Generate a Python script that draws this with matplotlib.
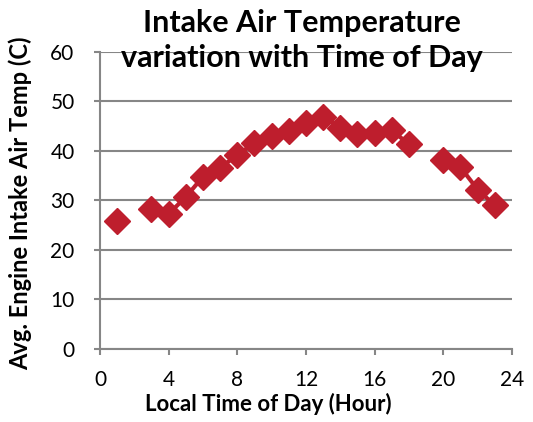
import numpy as np
import matplotlib.pyplot as plt

# hourly averages (NaN = no data for that hour)
hours = np.arange(1, 24)
temps = [25.9, np.nan, 28.3, 27.3, 30.7, 34.8, 36.6, 39.2, 41.6, 43.0,
         44.1, 45.6, 46.9, 44.7, 43.5, 43.7, 44.2, 41.3, np.nan, 38.2,
         36.7, 32.2, 29.0]

x_ticks = [0, 4, 8, 12, 16, 20, 24]
y_ticks = [0, 10, 20, 30, 40, 50, 60]

plt.rcParams['font.family'] = ['Lato', 'DejaVu Sans']
gray = '#868686'
red = '#BE1E2D'

fig = plt.figure(figsize=(5.33, 4.22), dpi=100)
ax = fig.add_axes([0.1876, 0.173, 0.773, 0.704])

ax.plot(hours, temps, color=red, lw=3, marker='D', ms=13, zorder=3)

ax.set_xlim(0, 24)
ax.set_ylim(0, 60)
ax.set_xticks(x_ticks)
ax.set_yticks(y_ticks)
ax.grid(axis='y', color=gray, lw=1.5)
ax.set_axisbelow(True)
for s in ['top', 'right']:
    ax.spines[s].set_visible(False)
for s in ['left', 'bottom']:
    ax.spines[s].set_color(gray)
    ax.spines[s].set_linewidth(1.5)
ax.tick_params(colors=gray, labelcolor='black', labelsize=15, length=4.3, width=1.5)
ax.tick_params(axis='y', pad=14)
ax.tick_params(axis='x', pad=11)

ax.set_xlabel('Local Time of Day (Hour)', fontsize=16, fontweight='bold')
ax.xaxis.set_label_coords(0.408, -0.148)
ax.set_ylabel('Avg. Engine Intake Air Temp (C)', fontsize=17, fontweight='bold')
ax.yaxis.set_label_coords(-0.165, 0.49)

fig.text(0.567, 0.905, 'Intake Air Temperature\nvariation with Time of Day',
         ha='center', va='center', fontsize=22, fontweight='bold', linespacing=1.3)

fig.savefig('out.png', dpi=100)
